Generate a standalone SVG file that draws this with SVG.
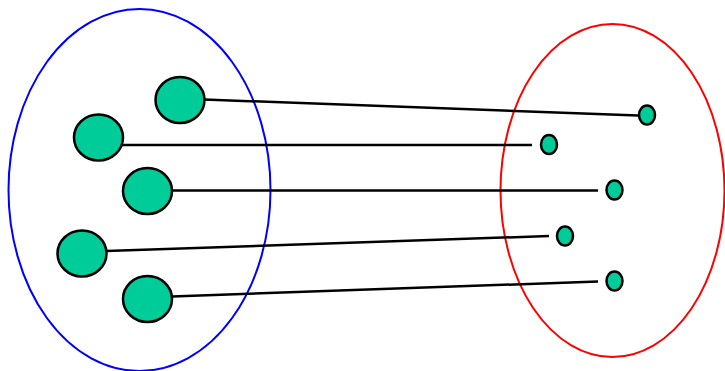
<svg xmlns="http://www.w3.org/2000/svg" width="725" height="371" viewBox="0 0 725 371">
<style>
.set{fill:none;stroke-width:2}
.big{fill:#00CC99;stroke:#000;stroke-width:2.5}
.small{fill:#00CC99;stroke:#000;stroke-width:2.5}
.conn line{stroke:#000;stroke-width:2.5;stroke-linecap:butt}
</style>
<rect width="725" height="371" fill="#fff"/>
<g id="domain"><ellipse class="set" cx="139.5" cy="190" rx="131" ry="181" stroke="#0000FF"/></g>
<g id="codomain"><ellipse class="set" cx="612.5" cy="190.5" rx="112" ry="166.5" stroke="#FF0000"/></g>
<g id="connectors" class="conn">
<line x1="204" y1="99.5" x2="638" y2="115.5"/>
<line x1="122" y1="145" x2="532" y2="145"/>
<line x1="172" y1="190.5" x2="598" y2="190.5"/>
<line x1="106" y1="251" x2="549" y2="236"/>
<line x1="172" y1="296.5" x2="598" y2="281.5"/>
</g>
<g id="a1"><ellipse class="big" cx="180" cy="100" rx="24.5" ry="23"/></g>
<g id="a2"><ellipse class="big" cx="98.5" cy="137.5" rx="24.5" ry="23"/></g>
<g id="a3"><ellipse class="big" cx="147.5" cy="191" rx="24.5" ry="23"/></g>
<g id="a4"><ellipse class="big" cx="82" cy="253.5" rx="24.5" ry="23"/></g>
<g id="a5"><ellipse class="big" cx="147.5" cy="299" rx="24.5" ry="23"/></g>
<g id="b1"><ellipse class="small" cx="647" cy="115" rx="8" ry="9.5"/></g>
<g id="b2"><ellipse class="small" cx="549" cy="144.5" rx="8" ry="9.5"/></g>
<g id="b3"><ellipse class="small" cx="614.5" cy="190" rx="8" ry="9.5"/></g>
<g id="b4"><ellipse class="small" cx="565" cy="236" rx="8" ry="9.5"/></g>
<g id="b5"><ellipse class="small" cx="614.5" cy="281" rx="8" ry="9.5"/></g>
</svg>
